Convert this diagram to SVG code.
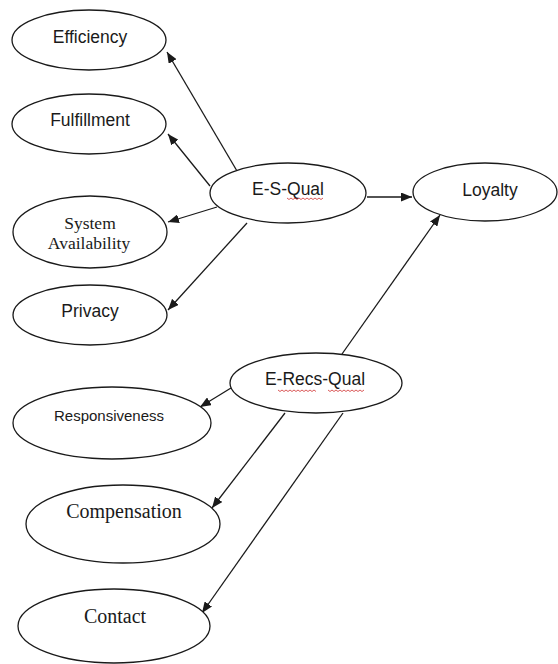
<svg xmlns="http://www.w3.org/2000/svg" width="558" height="664" viewBox="0 0 558 664">
<style>
.node ellipse{fill:#fff;stroke:#1a1a1a;stroke-width:1.3}
.sans{font-family:"Liberation Sans",Arial,sans-serif;font-size:17.5px;fill:#1a1a1a;text-anchor:middle}
.serif{font-family:"Liberation Serif","Times New Roman",serif;font-size:17.5px;fill:#1a1a1a;text-anchor:middle}
.conn line{stroke:#1a1a1a;stroke-width:1.3;marker-end:url(#ah)}
.squig{fill:none;stroke:#d03030;stroke-width:0.8}
</style>
<defs>
<marker id="ah" markerUnits="userSpaceOnUse" markerWidth="11" markerHeight="9" refX="11" refY="4.5" orient="auto">
<path d="M0,0 L11,4.5 L0,9 z" fill="#1a1a1a"/>
</marker>
</defs>
<rect width="558" height="664" fill="#fff"/>
<g id="connectors" class="conn">
<line x1="237" y1="171" x2="167" y2="52"/>
<line x1="210" y1="186" x2="168" y2="134"/>
<line x1="217" y1="207" x2="168" y2="222"/>
<line x1="247" y1="223" x2="168" y2="310"/>
<line x1="367" y1="197" x2="412" y2="197"/>
<line x1="342" y1="354" x2="440" y2="215"/>
<line x1="231" y1="388" x2="200" y2="407"/>
<line x1="285" y1="413" x2="212" y2="508"/>
<line x1="343" y1="413" x2="202" y2="613"/>
</g>
<g id="efficiency" class="node"><ellipse cx="89" cy="40" rx="77" ry="30"/><text class="sans" x="90" y="43">Efficiency</text></g>
<g id="fulfillment" class="node"><ellipse cx="89" cy="124" rx="77" ry="30"/><text class="sans" x="90" y="126">Fulfillment</text></g>
<g id="system-availability" class="node"><ellipse cx="90" cy="232" rx="77" ry="36"/><text class="serif" x="90" y="229">System</text><text class="serif" x="89" y="249">Availability</text></g>
<g id="privacy" class="node"><ellipse cx="90" cy="315" rx="77" ry="30"/><text class="sans" x="90" y="317">Privacy</text></g>
<g id="e-s-qual" class="node"><ellipse cx="288" cy="193" rx="78" ry="30"/><text class="sans" x="288" y="195">E-S-Qual</text><path class="squig" d="M287,198 l2,1.5 l2,-1.5 l2,1.5 l2,-1.5 l2,1.5 l2,-1.5 l2,1.5 l2,-1.5 l2,1.5 l2,-1.5 l2,1.5 l2,-1.5 l2,1.5 l2,-1.5 l2,1.5 l2,-1.5 l2,1.5 l2,-1.5"/></g>
<g id="loyalty" class="node"><ellipse cx="485" cy="192" rx="72" ry="29"/><text class="sans" x="490" y="196">Loyalty</text></g>
<g id="e-recs-qual" class="node"><ellipse cx="316" cy="383" rx="86" ry="30"/><text class="sans" x="315" y="385">E-Recs-Qual</text><path class="squig" d="M278,390 l2,1.5 l2,-1.5 l2,1.5 l2,-1.5 l2,1.5 l2,-1.5 l2,1.5 l2,-1.5 l2,1.5 l2,-1.5 l2,1.5 l2,-1.5 l2,1.5 l2,-1.5 l2,1.5 l2,-1.5 l2,1.5 l2,-1.5 l2,1.5"/><path class="squig" d="M328,390 l2,1.5 l2,-1.5 l2,1.5 l2,-1.5 l2,1.5 l2,-1.5 l2,1.5 l2,-1.5 l2,1.5 l2,-1.5 l2,1.5 l2,-1.5 l2,1.5 l2,-1.5 l2,1.5 l2,-1.5 l2,1.5 l2,-1.5"/></g>
<g id="responsiveness" class="node"><ellipse cx="112" cy="423" rx="99" ry="36"/><text class="sans" x="109" y="421" style="font-size:15px">Responsiveness</text></g>
<g id="compensation" class="node"><ellipse cx="123" cy="524" rx="97" ry="39"/><text class="serif" x="124" y="518" style="font-size:20px">Compensation</text></g>
<g id="contact" class="node"><ellipse cx="114" cy="626" rx="96" ry="37"/><text class="serif" x="115" y="623" style="font-size:20px">Contact</text></g>
</svg>
